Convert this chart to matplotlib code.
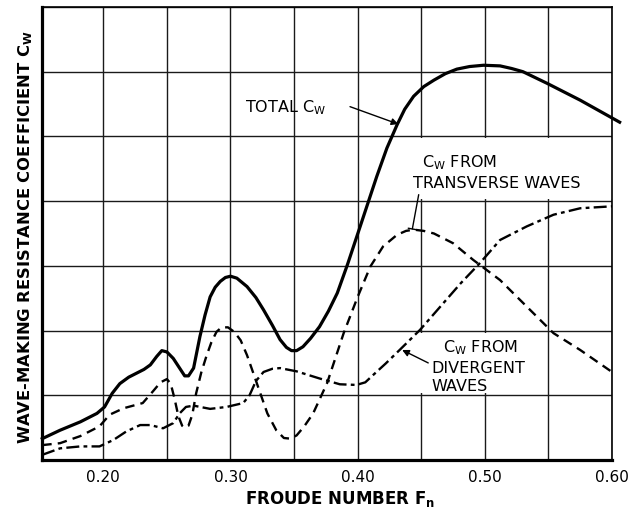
import matplotlib
matplotlib.use("Agg")
import matplotlib.pyplot as plt
from matplotlib.patches import Rectangle

# valores (Fn, Cw em unidades da grade)
fn_total = [0.152, 0.166, 0.182, 0.195, 0.201, 0.207, 0.213, 0.220, 0.226, 0.232,
            0.237, 0.242, 0.246, 0.250, 0.255, 0.260, 0.264, 0.267, 0.271, 0.276,
            0.280, 0.284, 0.288, 0.292, 0.296, 0.300, 0.305, 0.313, 0.320, 0.326,
            0.333, 0.339, 0.344, 0.348, 0.352, 0.357, 0.363, 0.370, 0.377, 0.384,
            0.392, 0.402, 0.415, 0.423, 0.431, 0.437, 0.444, 0.452, 0.460, 0.469,
            0.478, 0.488, 0.499, 0.512, 0.521, 0.530, 0.549, 0.575, 0.606]
cw_total = [0.33, 0.46, 0.59, 0.72, 0.82, 1.03, 1.18, 1.28, 1.34, 1.40,
            1.47, 1.60, 1.69, 1.67, 1.57, 1.42, 1.30, 1.30, 1.42, 1.91,
            2.24, 2.52, 2.67, 2.76, 2.82, 2.84, 2.81, 2.68, 2.51, 2.32,
            2.08, 1.86, 1.74, 1.69, 1.69, 1.75, 1.88, 2.06, 2.30, 2.58,
            3.02, 3.61, 4.38, 4.82, 5.18, 5.42, 5.62, 5.77, 5.87, 5.97,
            6.04, 6.08, 6.10, 6.09, 6.05, 6.00, 5.82, 5.56, 5.22]

fn_transv = [0.152, 0.166, 0.182, 0.197, 0.205, 0.216, 0.231, 0.239, 0.245, 0.250,
             0.253, 0.256, 0.259, 0.262, 0.264, 0.267, 0.270, 0.273, 0.277, 0.281,
             0.285, 0.289, 0.293, 0.298, 0.303, 0.308, 0.313, 0.318, 0.324, 0.329,
             0.336, 0.342, 0.347, 0.352, 0.358, 0.365, 0.376, 0.389, 0.400, 0.410,
             0.420, 0.431, 0.438, 0.444, 0.452, 0.460, 0.475, 0.491, 0.512, 0.533,
             0.554, 0.575, 0.600]
cw_transv = [0.23, 0.26, 0.37, 0.52, 0.70, 0.80, 0.88, 1.06, 1.20, 1.25,
             1.18, 0.95, 0.68, 0.53, 0.50, 0.53, 0.70, 1.03, 1.35, 1.60,
             1.82, 1.98, 2.05, 2.05, 1.98, 1.85, 1.62, 1.34, 1.00, 0.72,
             0.46, 0.34, 0.33, 0.38, 0.52, 0.72, 1.19, 1.96, 2.52, 2.99,
             3.30, 3.48, 3.54, 3.56, 3.54, 3.50, 3.35, 3.09, 2.78, 2.37,
             1.96, 1.70, 1.36]

fn_diverg = [0.152, 0.166, 0.182, 0.197, 0.208, 0.218, 0.229, 0.237, 0.247, 0.255,
             0.260, 0.265, 0.271, 0.284, 0.297, 0.310, 0.315, 0.320, 0.326, 0.333,
             0.339, 0.352, 0.370, 0.386, 0.399, 0.406, 0.412, 0.422, 0.433, 0.449,
             0.465, 0.481, 0.496, 0.512, 0.533, 0.554, 0.575, 0.600]
cw_diverg = [0.08, 0.18, 0.21, 0.21, 0.31, 0.44, 0.54, 0.54, 0.49, 0.57,
             0.72, 0.82, 0.84, 0.79, 0.82, 0.88, 1.00, 1.22, 1.36, 1.41,
             1.42, 1.37, 1.26, 1.17, 1.16, 1.20, 1.31, 1.49, 1.70, 2.01,
             2.37, 2.73, 3.04, 3.40, 3.61, 3.79, 3.89, 3.92]

xticks = [0.20, 0.25, 0.30, 0.35, 0.40, 0.45, 0.50, 0.55, 0.60]
xlabels = ['0.20', '', '0.30', '', '0.40', '', '0.50', '', '0.60']

fig = plt.figure(figsize=(6.38, 5.12), dpi=100)
ax = fig.add_axes([42/638, 52/512, 570/638, 453/512])

ax.set_xlim(0.1518, 0.60)
ax.set_ylim(0, 7)
ax.set_xticks(xticks)
ax.set_xticklabels(xlabels, fontsize=11, family='DejaVu Sans')
ax.set_yticks(range(0, 8))
ax.set_yticklabels([])
ax.tick_params(length=0, pad=7)
ax.grid(True, color='#1a1a1a', lw=1.0)
ax.set_axisbelow(True)
for s in ['left', 'bottom']:
    ax.spines[s].set_linewidth(2.3)
for s in ['top', 'right']:
    ax.spines[s].set_linewidth(1.2)

# caixas brancas atras dos textos
ax.add_patch(Rectangle((0.428, 4.03), 0.172, 0.94, fc='white', ec='none', zorder=1.5))
ax.add_patch(Rectangle((0.444, 1.03), 0.100, 0.94, fc='white', ec='none', zorder=1.5))

lkw = dict(color='black', solid_joinstyle='round', dash_joinstyle='round', zorder=3)
ax.plot(fn_total, cw_total, lw=2.3, clip_on=False, **lkw)
ax.plot(fn_transv, cw_transv, lw=1.7, ls=(0, (4, 2.6)), **lkw)
ax.plot(fn_diverg, cw_diverg, lw=1.7, ls=(0, (5.5, 1.8, 1.6, 1.8)), **lkw)

tkw = dict(fontsize=11.5, va='center', ha='left', zorder=4)
ax.text(0.3115, 5.44, r'TOTAL C$_\mathregular{W}$', **tkw)
ax.annotate('', xy=(0.432, 5.19), xytext=(0.394, 5.46),
            arrowprops=dict(arrowstyle='-|>', color='black', lw=1.0,
                            mutation_scale=10, shrinkA=0, shrinkB=0))

ax.text(0.4505, 4.59, r'C$_\mathregular{W}$ FROM', **tkw)
ax.text(0.4437, 4.28, 'TRANSVERSE WAVES', **tkw)
ax.annotate('', xy=(0.443, 3.57), xytext=(0.448, 4.10),
            arrowprops=dict(arrowstyle='-[, widthB=0.3, lengthB=0', color='black', lw=1.0,
                            shrinkA=0, shrinkB=0))

ax.text(0.4673, 1.73, r'C$_\mathregular{W}$ FROM', **tkw)
ax.text(0.4578, 1.42, 'DIVERGENT', **tkw)
ax.text(0.4578, 1.13, 'WAVES', **tkw)
ax.annotate('', xy=(0.435, 1.70), xytext=(0.4555, 1.50),
            arrowprops=dict(arrowstyle='-|>', color='black', lw=1.0,
                            mutation_scale=10, shrinkA=0, shrinkB=0))

fig.text(340/638, 1 - 499/512, r'FROUDE NUMBER F$_\mathregular{n}$', fontsize=12,
         fontweight='bold', ha='center', va='center')
fig.text(26/638, 1 - 237/512, r'WAVE-MAKING RESISTANCE COEFFICIENT C$_\mathregular{W}$',
         fontsize=11.8, fontweight='bold', ha='center', va='center', rotation=90)

fig.savefig('out.png', dpi=100)
